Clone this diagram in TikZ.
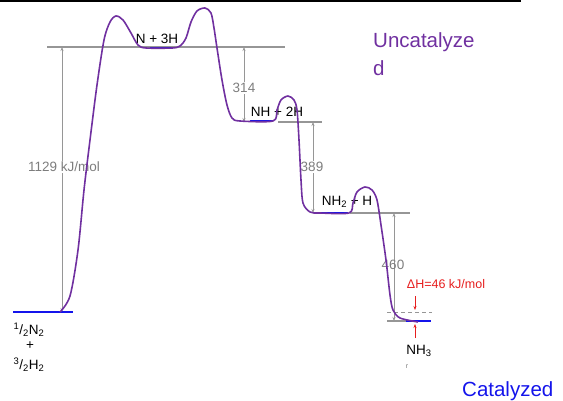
\documentclass[tikz,border=0pt]{standalone}
\usepackage{fontspec}
\setmainfont{Liberation Sans}
\usetikzlibrary{arrows.meta}
\definecolor{purp}{RGB}{112,48,160}
\definecolor{lvlgray}{RGB}{150,150,150}
\definecolor{txtgray}{RGB}{125,125,125}
\definecolor{bluelvl}{RGB}{20,20,235}
\definecolor{redc}{RGB}{230,30,30}
\tikzset{
  lvl/.style={draw=lvlgray, line width=1.3pt},
  blv/.style={draw=bluelvl, line width=1.4pt},
  garr/.style={draw=lvlgray, line width=0.6pt, {Stealth[length=4pt,width=3pt]}-{Stealth[length=4pt,width=3pt]}},
  rarr/.style={draw=redc, line width=0.8pt, -{Stealth[length=4pt,width=3pt]}},
  lab/.style={font=\fontsize{13.5}{15}\selectfont, inner sep=0pt},
  glab/.style={font=\fontsize{13.5}{15}\selectfont, text=txtgray, fill=white, inner sep=1pt},
  big/.style={font=\fontsize{20.5}{24}\selectfont, inner sep=0pt, anchor=base west}
}
\begin{document}
\begin{tikzpicture}[x=1pt,y=-1pt]
\useasboundingbox (0,0) rectangle (563,401);
% top rule
\draw[line width=1.5pt] (0,1) -- (521,1);
% gray levels
\draw[lvl] (47,47) -- (285,47);
\draw[lvl] (278,122) -- (322,122);
\draw[lvl] (350,213) -- (410,213);
\draw[lvl] (387,321) -- (406,321);
\draw[draw=lvlgray, line width=1pt, dash pattern=on 4pt off 3pt] (387,312) -- (432,312);
% coordinates for arrows
\coordinate (a1t) at (62,47);  \coordinate (a1b) at (62,312);
\coordinate (a2t) at (244,47); \coordinate (a2b) at (244,122);
\coordinate (a3t) at (313,122); \coordinate (a3b) at (313,213);
\coordinate (a4t) at (394,213); \coordinate (a4b) at (394,321);
\draw[garr] (a1b) -- (a1t);
\draw[garr] (a2t) -- (a2b);
\draw[garr] (a3t) -- (a3b);
\draw[garr] (a4t) -- (a4b);
\node[glab] (e1) at (64,167) {1129 kJ/mol};
\node[glab] (e2) at (244,88) {314};
\node[glab] (e3) at (312,167) {389};
\node[glab, fill=none] (e4) at (393,265) {460};
% blue levels
\draw[blv] (13,312) -- (73,312);
\draw[blv] (150,48) -- (173,48);
\draw[blv] (250,121) -- (273,121);
\draw[blv] (320,213) -- (348,213);
\draw[blv] (406,321) -- (431,321);
% species labels
\node[lab] (n3h) at (157,39) {N + 3H};
\node[lab] (nh2h) at (277,112) {NH + 2H};
\node[lab] (nh2h1) at (347,202) {NH\textsubscript{2} + H};
\node[lab] (r1) at (29,330) {\textsuperscript{1}/\textsubscript{2}N\textsubscript{2}};
\node[lab] (r2) at (30,346) {+};
\node[lab] (r3) at (29,365) {\textsuperscript{3}/\textsubscript{2}H\textsubscript{2}};
\node[lab] (nh3) at (419,351) {NH\textsubscript{3}};
\node[inner sep=0pt, text=txtgray, font=\fontsize{7}{8}\selectfont] (rr) at (407,367) {r};
% purple curve
\draw[purp, line width=1.6pt, line join=round] plot[smooth, tension=0.5] coordinates {
 (60,312) (70,296) (78,250) (84,190) (90,140) (97,85) (104,40) (110,22) (116,16) (123,20) (131,33) (138,45) (146,48)
 (172,48) (180,46) (186,38) (191,22) (197,11) (205,8) (211,13) (214,28) (217,48) (222,80) (227,105) (232,118) (240,121)
 (273,121) (277,110) (281,100) (288,96) (294,100) (297,110) (299,140) (301,180) (303,203) (310,212) (320,213)
 (349,213) (353,203) (357,192) (365,187) (372,190) (377,200) (381,225) (386,260) (390,295) (393,310) (400,318) (418,322)};
% delta H
\node[lab, text=redc, font=\fontsize{12.5}{14}\selectfont] (dh) at (446,284) {ΔH=46 kJ/mol};
\coordinate (d1s) at (415,296); \coordinate (d1e) at (415,310);
\coordinate (d2s) at (415,338); \coordinate (d2e) at (415,324);
\draw[rarr] (d1s) -- (d1e);
\draw[rarr] (d2s) -- (d2e);
% legends
\node[big, text=purp] (unc) at (373,48) {Uncatalyze};
\node[big, text=purp] (unc2) at (373,76) {d};
\node[big, text=bluelvl] (cat) at (462,396) {Catalyzed};
\end{tikzpicture}
\end{document}
